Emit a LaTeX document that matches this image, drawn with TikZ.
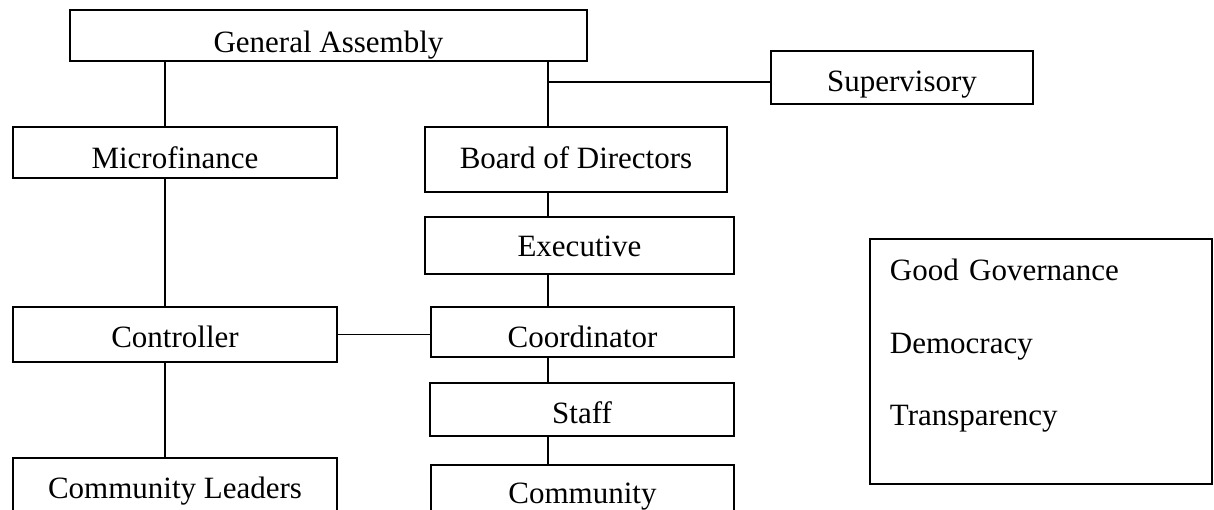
\documentclass[tikz,border=0pt]{standalone}
\usepackage{fontspec}
\setmainfont{Liberation Serif}
\usetikzlibrary{calc}
\tikzset{
  unit/.style={draw,line width=1.9pt,inner sep=0pt,text depth=0pt,font=\fontsize{31}{37}\selectfont},
}

\begin{document}
\begin{tikzpicture}[x=1pt,y=-1pt,line width=1.7pt]
\useasboundingbox (0,0) rectangle (1214,510);
\coordinate (L) at (165,0);
\coordinate (R) at (548,0);
\node[unit,minimum width=517pt,minimum height=51pt,text height=34pt] (GA) at (328.5,35.5) {General Assembly};
\node[unit,minimum width=262pt,minimum height=53pt,text height=28pt] (SV) at (902,77.5) {Supervisory};
\node[unit,minimum width=324pt,minimum height=51pt,text height=32pt] (MF) at (175,152.5) {Microfinance};
\node[unit,minimum width=302pt,minimum height=65pt,text height=18pt] (BD) at (576,159.5) {Board of Directors};
\node[unit,minimum width=309pt,minimum height=57pt,text height=22pt] (EX) at (579.5,245.5) {Executive};
\node[unit,minimum width=324pt,minimum height=55pt,text height=26pt] (CT) at (175,334.5) {Controller};
\node[unit,minimum width=303pt,minimum height=50pt,text height=30pt] (CO) at (582.5,332) {Coordinator};
\node[unit,minimum width=304pt,minimum height=53pt,text height=28pt] (ST) at (582,409.5) {Staff};
\node[unit,minimum width=324pt,minimum height=62pt,text height=18pt] (CL) at (175,489) {Community Leaders};
\node[unit,minimum width=303pt,minimum height=60pt,text height=16pt] (CM) at (582.5,495) {Community};
\node[unit,anchor=north west,inner xsep=20pt,text width=302pt,align=left,text height=42pt,text depth=203pt,font=\fontsize{31}{72.5}\selectfont] (GV) at (869,238) {Good Governance\\Democracy\\Transparency};
\draw (GA.south-|L)--(MF.north-|L);
\draw (MF.south-|L)--(CT.north-|L);
\draw (CT.south-|L)--(CL.north-|L);
\draw (GA.south-|R)--(BD.north-|R);
\draw ([yshift=-4.5pt]SV.west)--([yshift=-4.5pt]SV.west-|R);
\draw (BD.south-|R)--(EX.north-|R);
\draw (EX.south-|R)--(CO.north-|R);
\draw (CO.south-|R)--(ST.north-|R);
\draw (ST.south-|R)--(CM.north-|R);
\draw (CT.east)--(CT.east-|CO.west);
\end{tikzpicture}
\end{document}
